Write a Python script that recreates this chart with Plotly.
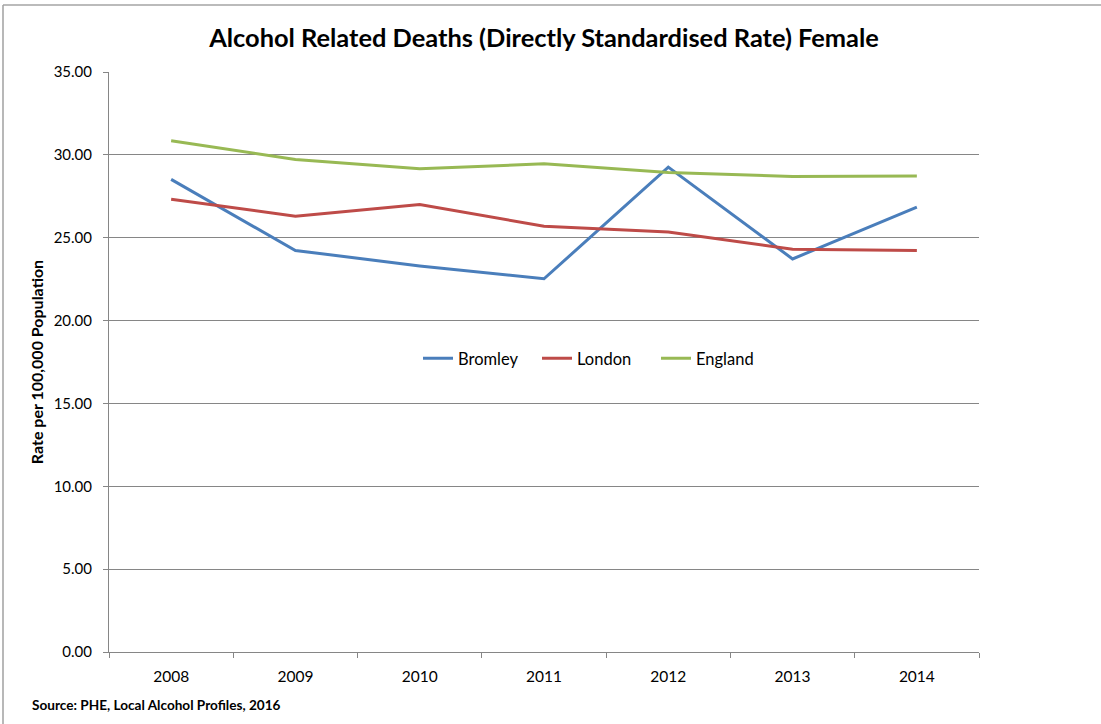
import plotly.graph_objects as go

years = ["2008", "2009", "2010", "2011", "2012", "2013", "2014"]
bromley = [28.52, 24.23, 23.30, 22.52, 29.26, 23.72, 26.84]
london = [27.32, 26.30, 27.00, 25.69, 25.35, 24.31, 24.23]
england = [30.85, 29.72, 29.16, 29.46, 28.94, 28.70, 28.72]

series_names = ["Bromley", "London", "England"]
colors = ["#4A7EBB", "#BE4B48", "#98B954"]

FONT = "Lato, Carlito, Calibri, sans-serif"

fig = go.Figure()
for name, vals, col in zip(series_names, [bromley, london, england], colors):
    fig.add_trace(go.Scatter(x=years, y=vals, name=name, mode="lines",
                             line=dict(color=col, width=3)))

fig.update_layout(
    width=1101, height=724,
    paper_bgcolor="white", plot_bgcolor="white",
    margin=dict(l=109, r=122, t=72, b=72),
    font=dict(family=FONT, size=15, color="black"),
    title=dict(text="<b>Alcohol Related Deaths (Directly Standardised Rate) Female</b>",
               x=0.5, xanchor="center", xref="paper", y=0.948, yanchor="middle",
               font=dict(family=FONT, size=25.4, color="black")),
    legend=dict(orientation="h", x=(424 - 109 - 6) / 870, xanchor="left",
                y=0.506, yanchor="middle",
                bgcolor="rgba(0,0,0,0)", font=dict(size=16.5), itemwidth=30,
                entrywidth=74, entrywidthmode="pixels",
                traceorder="normal"),
    showlegend=True,
)

fig.update_xaxes(
    type="category", range=[-0.5, 6.5],
    tickson="boundaries", ticks="outside", ticklen=5, tickcolor="#868686",
    showline=True, linecolor="#868686", linewidth=1,
    showgrid=False, tickfont=dict(size=15.5), ticklabelstandoff=10,
)
fig.update_yaxes(
    range=[0, 35], dtick=5, tickformat=".2f",
    ticks="outside", ticklen=5, tickcolor="#868686",
    showline=True, linecolor="#868686", linewidth=1,
    showgrid=True, gridcolor="#868686", gridwidth=1,
    zeroline=False, tickfont=dict(size=15), ticklabelstandoff=8,
    title=dict(text="<b>Rate per 100,000 Population</b>", font=dict(size=16), standoff=6),
)

# outer chart border (top and left edges visible)
top_y = (724 - 72 - 5) / 580
left_x = -106 / 870
fig.add_shape(type="line", xref="paper", yref="paper",
              x0=left_x, x1=1.2, y0=top_y, y1=top_y,
              line=dict(color="#BBBBBB", width=2))
fig.add_shape(type="line", xref="paper", yref="paper",
              x0=left_x, x1=left_x, y0=-0.2, y1=top_y,
              line=dict(color="#A0A0A0", width=1.5))

fig.add_annotation(text="<b>Source: PHE, Local Alcohol Profiles, 2016</b>",
                   xref="paper", yref="paper", x=-79/870, y=-(705-652)/580,
                   xanchor="left", yanchor="middle", showarrow=False,
                   font=dict(family=FONT, size=13.6, color="black"))

fig.write_html("out.html", config={"displayModeBar": False},
               post_script="document.body.style.margin='0';document.body.style.overflow='hidden';")
